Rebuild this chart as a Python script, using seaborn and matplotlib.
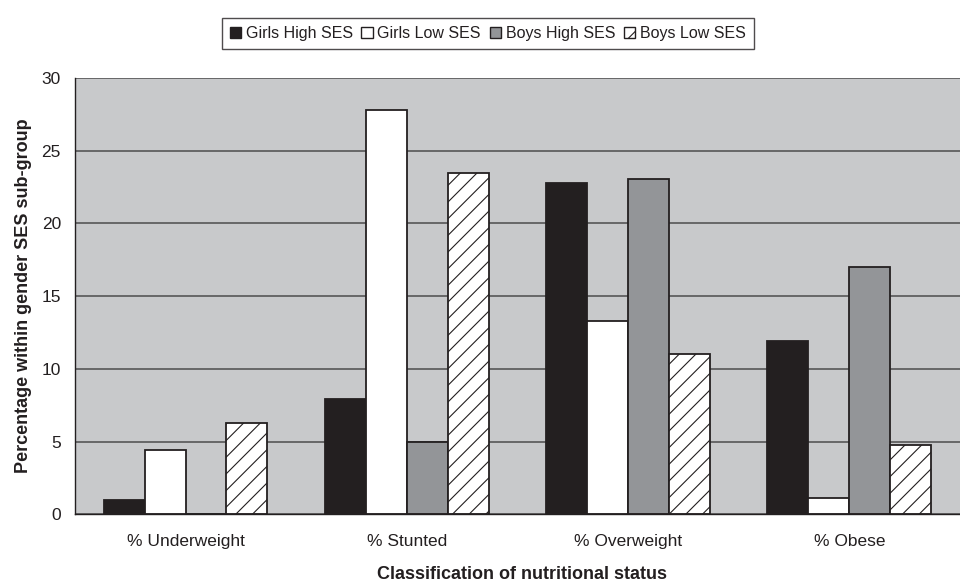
import matplotlib
matplotlib.use("Agg")
import matplotlib.pyplot as plt
from matplotlib.patches import Patch
import seaborn as sns
import pandas as pd

categories = ["% Underweight", "% Stunted", "% Overweight", "% Obese"]
groups = ["Girls High SES", "Girls Low SES", "Boys High SES", "Boys Low SES"]
girls_high = [1.0, 7.9, 22.8, 11.9]
girls_low = [4.4, 27.8, 13.3, 1.1]
boys_high = [0.0, 5.0, 23.05, 17.0]
boys_low = [6.3, 23.5, 11.0, 4.75]
y_ticks = [0, 5, 10, 15, 20, 25, 30]

series = [girls_high, girls_low, boys_high, boys_low]
rows = []
for g, vals in zip(groups, series):
    for c, v in zip(categories, vals):
        rows.append({"category": c, "group": g, "value": v})
df = pd.DataFrame(rows)

sns.set_theme(style="white")
plt.rcParams["font.family"] = ["Liberation Sans", "DejaVu Sans"]
plt.rcParams["hatch.color"] = "#9a9a9a"
plt.rcParams["hatch.linewidth"] = 0.8

ink = "#231F20"
fills = {"Girls High SES": "#231F20", "Girls Low SES": "#FFFFFF",
         "Boys High SES": "#939598", "Boys Low SES": "#FFFFFF"}

fig = plt.figure(figsize=(9.6, 5.83), dpi=100)
ax = fig.add_axes([0.078, 0.118, 0.922, 0.748])
ax.set_facecolor("#C8C9CB")

sns.barplot(data=df, x="category", y="value", hue="group", order=categories,
            hue_order=groups, palette=fills, width=0.74, edgecolor=ink,
            linewidth=1.3, saturation=1, legend=False, ax=ax, zorder=3)

# hatch the boys low-SES bars
for bar in ax.containers[3]:
    bar.set_hatch("//")

ax.set_ylim(0, 30)
ax.set_xlim(-0.5, 3.5)
ax.set_yticks(y_ticks)
ax.yaxis.grid(True, color="#4d4d4d", linewidth=1.1, zorder=1)
ax.set_axisbelow(True)

for side in ["top", "right"]:
    ax.spines[side].set_visible(False)
for side in ["left", "bottom"]:
    ax.spines[side].set_color(ink)
    ax.spines[side].set_linewidth(1.0)
    ax.spines[side].set_zorder(4)

ax.tick_params(axis="y", which="major", direction="out", length=7, width=1,
               color=ink, labelsize=12.5, labelcolor=ink, pad=3)
# category boundaries carry the x tick marks
ax.set_xticks([0.5, 1.5, 2.5, 3.5], minor=True)
ax.tick_params(axis="x", which="minor", direction="out", length=7, width=1,
               color=ink)
ax.tick_params(axis="x", which="major", length=0, labelsize=12.5,
               labelcolor=ink, pad=14)

ax.set_xlabel("Classification of nutritional status", fontsize=13,
              fontweight="bold", color=ink)
ax.xaxis.set_label_coords(0.505, -0.118)
ax.xaxis.label.set_va("top")
ax.set_ylabel("Percentage within gender SES sub-group", fontsize=13,
              fontweight="bold", color=ink)
ax.yaxis.set_label_coords(-0.049, 0.5)

handles = []
for g in groups:
    h = Patch(facecolor=fills[g], edgecolor=ink, linewidth=1.0,
              hatch="//" if g == "Boys Low SES" else None)
    handles.append(h)
leg = fig.legend(handles, groups, loc="center", bbox_to_anchor=(0.508, 0.943),
                 ncol=4, frameon=True, fontsize=11.5, handlelength=0.7,
                 handleheight=0.7, handletextpad=0.3, columnspacing=0.55,
                 borderpad=0.5, fancybox=False)
leg.get_frame().set_edgecolor(ink)
leg.get_frame().set_linewidth(1.0)
for t in leg.get_texts():
    t.set_color(ink)

fig.savefig("out.png", dpi=100, facecolor="white")
